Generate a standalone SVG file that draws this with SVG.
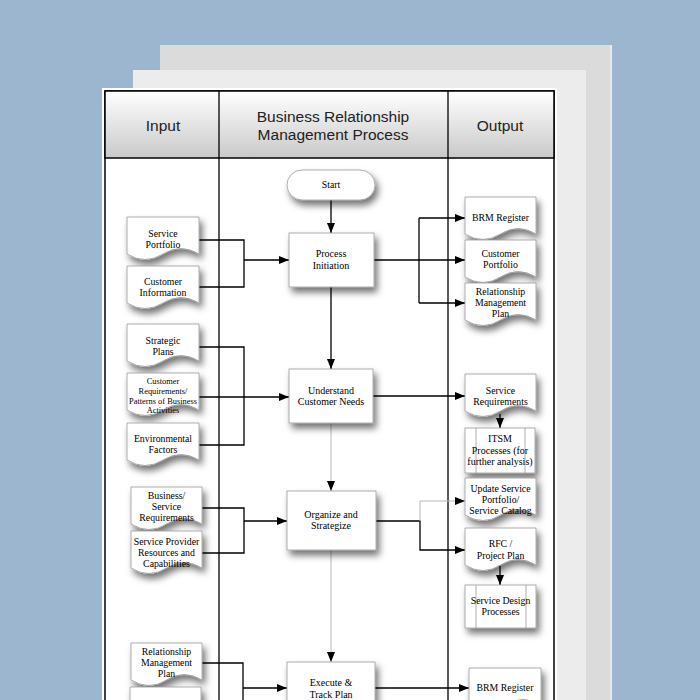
<svg xmlns="http://www.w3.org/2000/svg" width="700" height="700" viewBox="0 0 700 700">
<defs>
<linearGradient id="hdr" x1="0" y1="0" x2="0" y2="1">
<stop offset="0" stop-color="#ffffff"/>
<stop offset="1" stop-color="#c9c9c9"/>
</linearGradient>
<filter id="sh" x="-20%" y="-20%" width="150%" height="170%">
<feDropShadow dx="3" dy="5" stdDeviation="3.5" flood-color="#000" flood-opacity="0.55"/>
</filter>
<marker id="ar" viewBox="0 0 10 10" refX="10" refY="5" markerWidth="10" markerHeight="10" markerUnits="userSpaceOnUse" orient="auto">
<path d="M0,1 L10,5 L0,9 Z" fill="#000"/>
</marker>
<marker id="arg" viewBox="0 0 10 10" refX="10" refY="5" markerWidth="10" markerHeight="10" markerUnits="userSpaceOnUse" orient="auto">
<path d="M0,1 L10,5 L0,9 Z" fill="#000"/>
</marker>
<style>
.hd{font-family:"Liberation Sans",Arial,sans-serif;font-size:15.5px;fill:#222;text-anchor:middle}
.t{font-family:"Liberation Serif","Times New Roman",serif;font-size:9.8px;fill:#000;text-anchor:middle}
.ts{font-family:"Liberation Serif","Times New Roman",serif;font-size:8.4px;fill:#000;text-anchor:middle}
.tp{font-family:"Liberation Serif","Times New Roman",serif;font-size:10px;fill:#000;text-anchor:middle}
.shape{fill:#fff;stroke:#9a9a9a;stroke-width:0.8;filter:url(#sh)}
.ln{fill:none;stroke:#000;stroke-width:1.3}
.lg{fill:none;stroke:#b8b8b8;stroke-width:1}
.sep{stroke:#000;stroke-width:1.3}
.in{stroke:#9a9a9a;stroke-width:0.8}
</style>
</defs>
<rect width="700" height="700" fill="#9db6cf"/>
<rect x="160" y="45" width="452" height="660" fill="#dcdbdb"/>
<rect x="610" y="45" width="2" height="660" fill="#e9e9e9"/>
<rect x="133" y="70" width="453" height="640" fill="#ececec"/>
<rect x="102" y="88" width="455" height="620" fill="#ffffff"/>

<g id="table">
<rect x="105" y="91" width="449" height="620" fill="#fff" stroke="#000" stroke-width="1.5"/>
<rect x="105" y="91" width="449" height="67" fill="url(#hdr)" stroke="#000" stroke-width="1.5"/>
<line class="sep" x1="219" y1="91" x2="219" y2="705"/>
<line class="sep" x1="448" y1="91" x2="448" y2="705"/>
<text class="hd" x="163" y="131">Input</text>
<text class="hd" x="333" y="122">Business Relationship</text>
<text class="hd" x="333" y="140">Management Process</text>
<text class="hd" x="500" y="131">Output</text>
</g>

<g id="connectors">
<path class="ln" d="M331,200 V233" marker-end="url(#ar)"/>
<path class="ln" d="M199,240 H244 V287 H199"/>
<path class="ln" d="M244,260 H289" marker-end="url(#ar)"/>
<path class="ln" d="M331,287 V369" marker-end="url(#ar)"/>
<path class="ln" d="M373,260 H465" marker-end="url(#ar)"/>
<path class="ln" d="M419,218 V303"/>
<path class="ln" d="M419,218 H465" marker-end="url(#ar)"/>
<path class="ln" d="M419,303 H465" marker-end="url(#ar)"/>
<path class="ln" d="M199,347 H244 V445 H199"/>
<path class="ln" d="M199,397 H289" marker-end="url(#ar)"/>
<path class="ln" d="M373,396 H465" marker-end="url(#ar)"/>
<path class="ln" d="M500,414 V428" marker-end="url(#ar)"/>
<path class="lg" d="M331,423 V491" marker-end="url(#arg)"/>
<path class="ln" d="M202,508 H244 V553 H202"/>
<path class="ln" d="M244,521 H287" marker-end="url(#ar)"/>
<path class="ln" d="M376,521 H420 V550 H465" marker-end="url(#ar)"/>
<path class="lg" d="M420,521 V501 H465" marker-end="url(#ar)"/>
<path class="ln" d="M500,566 V585" marker-end="url(#ar)"/>
<path class="lg" d="M331,550 V662" marker-end="url(#arg)"/>
<path class="ln" d="M202,663 H243 V705"/>
<path class="ln" d="M243,688 H287" marker-end="url(#ar)"/>
<path class="ln" d="M375,688 H469" marker-end="url(#ar)"/>
</g>

<g id="start">
<rect class="shape" x="287" y="170" width="88" height="30" rx="15"/>
<text class="t" x="331" y="188">Start</text>
</g>
<g id="process-initiation">
<rect class="shape" x="289" y="233" width="85" height="54"/>
<text class="tp" x="331" y="257">Process</text>
<text class="tp" x="331" y="269">Initiation</text>
</g>
<g id="understand">
<rect class="shape" x="289" y="369" width="84" height="54"/>
<text class="tp" x="331" y="394">Understand</text>
<text class="tp" x="331" y="405">Customer Needs</text>
</g>
<g id="organize">
<rect class="shape" x="287" y="491" width="89" height="59"/>
<text class="tp" x="331" y="518">Organize and</text>
<text class="tp" x="331" y="529">Strategize</text>
</g>
<g id="execute">
<rect class="shape" x="287" y="662" width="88" height="50"/>
<text class="tp" x="331" y="686">Execute &amp;</text>
<text class="tp" x="331" y="698">Track Plan</text>
</g>

<g id="in-service-portfolio">
<path class="shape" d="M127,217 H199 V254 Q181,243 163,254 T127,254 Z"/>
<text class="t" x="163" y="237">Service</text>
<text class="t" x="163" y="248">Portfolio</text>
</g>
<g id="in-customer-information">
<path class="shape" d="M127,266 H199 V303 Q181,292 163,303 T127,303 Z"/>
<text class="t" x="163" y="285">Customer</text>
<text class="t" x="163" y="296">Information</text>
</g>
<g id="in-strategic-plans">
<path class="shape" d="M127,324 H199 V361 Q181,350 163,361 T127,361 Z"/>
<text class="t" x="163" y="344">Strategic</text>
<text class="t" x="163" y="355">Plans</text>
</g>
<g id="in-customer-requirements">
<path class="shape" d="M127,373 H199 V410 Q181,399 163,410 T127,410 Z"/>
<text class="ts" x="163" y="384">Customer</text>
<text class="ts" x="163" y="394">Requirements/</text>
<text class="ts" x="163" y="403.5">Patterns of Business</text>
<text class="ts" x="163" y="413">Activities</text>
</g>
<g id="in-environmental-factors">
<path class="shape" d="M127,423 H199 V460 Q181,449 163,460 T127,460 Z"/>
<text class="t" x="163" y="442">Environmental</text>
<text class="t" x="163" y="453">Factors</text>
</g>
<g id="in-business-service-req">
<path class="shape" d="M131,487 H202 V524 Q184,513 166.5,524 T131,524 Z"/>
<text class="t" x="166.5" y="499">Business/</text>
<text class="t" x="166.5" y="510">Service</text>
<text class="t" x="166.5" y="521">Requirements</text>
</g>
<g id="in-service-provider">
<path class="shape" d="M131,531 H202 V568 Q184,557 166.5,568 T131,568 Z"/>
<text class="t" x="166.5" y="545">Service Provider</text>
<text class="t" x="166.5" y="556">Resources and</text>
<text class="t" x="166.5" y="567">Capabilities</text>
</g>
<g id="in-relationship-plan">
<path class="shape" d="M131,643 H202 V680 Q184,669 166.5,680 T131,680 Z"/>
<text class="t" x="166.5" y="655">Relationship</text>
<text class="t" x="166.5" y="666">Management</text>
<text class="t" x="166.5" y="677">Plan</text>
</g>
<g id="in-bottom-doc">
<path class="shape" d="M130,687 H201 V724 Q183,713 165.5,724 T130,724 Z"/>
</g>

<g id="out-brm-register">
<path class="shape" d="M465,197 H536 V234 Q518,223 500.5,234 T465,234 Z"/>
<text class="t" x="500.5" y="221">BRM Register</text>
</g>
<g id="out-customer-portfolio">
<path class="shape" d="M465,240 H536 V277 Q518,266 500.5,277 T465,277 Z"/>
<text class="t" x="500.5" y="257">Customer</text>
<text class="t" x="500.5" y="268">Portfolio</text>
</g>
<g id="out-relationship-plan">
<path class="shape" d="M465,283 H536 V320 Q518,309 500.5,320 T465,320 Z"/>
<text class="t" x="500.5" y="295">Relationship</text>
<text class="t" x="500.5" y="306">Management</text>
<text class="t" x="500.5" y="317">Plan</text>
</g>
<g id="out-service-requirements">
<path class="shape" d="M465,374 H536 V411 Q518,400 500.5,411 T465,411 Z"/>
<text class="t" x="500.5" y="394">Service</text>
<text class="t" x="500.5" y="405">Requirements</text>
</g>
<g id="out-itsm">
<rect class="shape" x="465" y="428" width="70" height="45"/>
<line class="in" x1="476" y1="428" x2="476" y2="473"/>
<line class="in" x1="525" y1="428" x2="525" y2="473"/>
<text class="tp" x="500" y="442">ITSM</text>
<text class="tp" x="500" y="454">Processes (for</text>
<text class="tp" x="500" y="465">further analysis)</text>
</g>
<g id="out-update-service">
<path class="shape" d="M465,478 H536 V515 Q518,504 500.5,515 T465,515 Z"/>
<text class="t" x="500.5" y="492">Update Service</text>
<text class="t" x="500.5" y="503">Portfolio/</text>
<text class="t" x="500.5" y="514">Service Catalog</text>
</g>
<g id="out-rfc">
<path class="shape" d="M465,528 H536 V565 Q518,554 500.5,565 T465,565 Z"/>
<text class="t" x="500.5" y="547">RFC /</text>
<text class="t" x="500.5" y="559">Project Plan</text>
</g>
<g id="out-service-design">
<rect class="shape" x="465" y="585" width="71" height="43"/>
<line class="in" x1="476" y1="585" x2="476" y2="628"/>
<line class="in" x1="526" y1="585" x2="526" y2="628"/>
<text class="t" x="500.5" y="604">Service Design</text>
<text class="t" x="500.5" y="615">Processes</text>
</g>
<g id="out-brm-register-2">
<path class="shape" d="M469,668 H541 V705 Q523,694 505,705 T469,705 Z"/>
<text class="t" x="505" y="691">BRM Register</text>
</g>
</svg>
